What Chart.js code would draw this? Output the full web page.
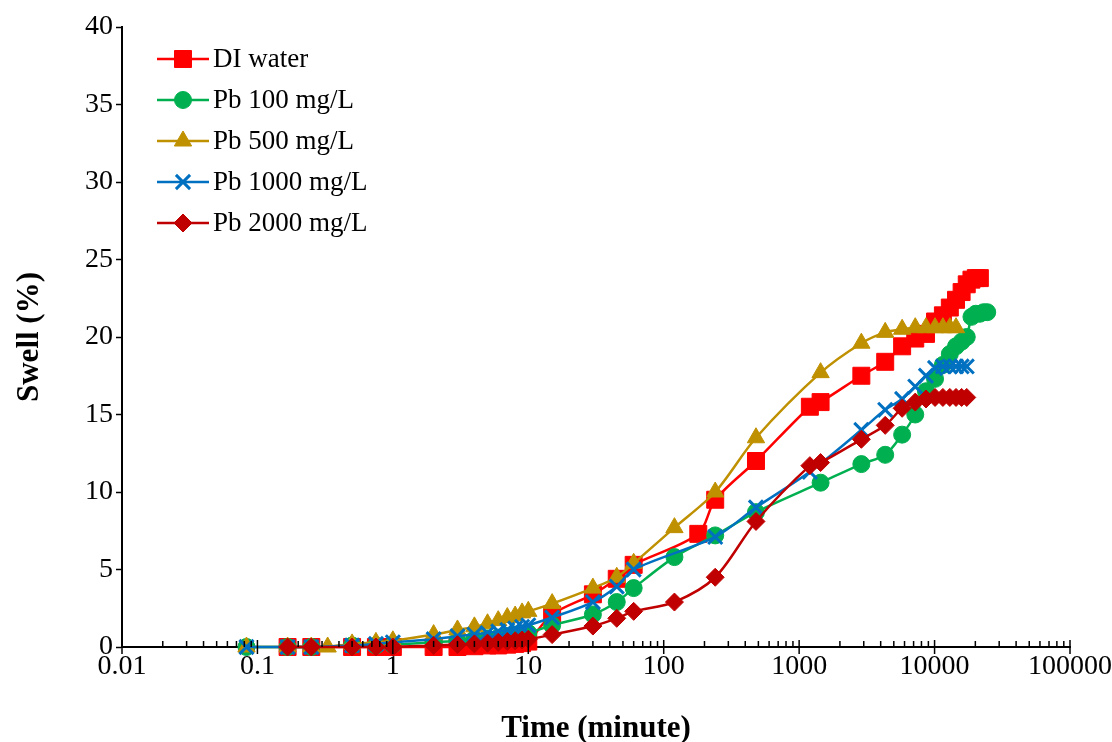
<!DOCTYPE html>
<html>
<head>
<meta charset="utf-8">
<script src="https://cdn.jsdelivr.net/npm/chart.js@4/dist/chart.umd.min.js"></script>
<style>
  html, body { margin: 0; padding: 0; background: #fff; }
  #wrap { width: 1112px; height: 742px; }
</style>
</head>
<body>
<div id="wrap"><canvas id="myChart" width="1112" height="742"></canvas></div>
<script>
// time in minutes, swell in %
const diTime = [0.167,0.25,0.5,0.75,1,2,3,4,5,6,7,8,9,10,15,30,45,60,180,240,480,1200,1440,2880,4320,5760,7200,8640,10080,11520,12960,14400,15840,17280,18720,20160,21600];
const diSwell = [0,0,0,0,0,0,0,0.05,0.1,0.1,0.15,0.2,0.25,0.35,2.1,3.4,4.4,5.3,7.3,9.5,12.0,15.5,15.8,17.5,18.4,19.4,19.9,20.2,21.0,21.4,21.9,22.4,22.9,23.4,23.7,23.8,23.8];

const pb100Time = [0.083,0.167,0.25,0.5,0.75,1,2,3,4,5,6,7,8,9,10,15,30,45,60,120,240,480,1440,2880,4320,5760,7200,8640,10080,11520,12960,14400,15840,17280,18720,20160,21600,23040,24480];
const pb100Swell = [0,0,0,0.1,0.1,0.15,0.3,0.4,0.5,0.55,0.6,0.7,0.8,0.85,0.9,1.4,2.1,2.9,3.8,5.8,7.2,8.7,10.6,11.8,12.4,13.7,15.0,16.5,17.3,18.2,18.9,19.4,19.7,20.0,21.3,21.5,21.5,21.6,21.6];

const pb500Time = [0.083,0.167,0.25,0.33,0.5,0.75,1,2,3,4,5,6,7,8,9,10,15,30,45,60,120,240,480,1440,2880,4320,5760,7200,8640,10080,11520,12960,14400];
const pb500Swell = [0,0,0,0,0.2,0.3,0.4,0.8,1.1,1.3,1.5,1.7,1.9,2.0,2.2,2.3,2.8,3.8,4.5,5.4,7.7,10.0,13.5,17.7,19.6,20.3,20.5,20.6,20.6,20.6,20.6,20.6,20.6];

const pb1000Time = [0.083,0.167,0.25,0.5,0.75,1,2,3,4,5,6,7,8,9,10,15,30,45,60,240,480,1200,2880,4320,5760,7200,8640,10080,11520,12960,14400,15840,17280];
const pb1000Swell = [0,0,0,0.1,0.2,0.3,0.5,0.7,0.8,0.9,1.0,1.1,1.2,1.3,1.4,1.9,2.9,3.9,5.0,7.1,9.0,11.3,14.0,15.3,16.0,16.8,17.5,18.0,18.1,18.1,18.1,18.1,18.1];

const pb2000Time = [0.167,0.25,0.5,0.75,1,2,3,4,5,6,7,8,9,10,15,30,45,60,120,240,480,1200,1440,2880,4320,5760,7200,8640,10080,11520,12960,14400,15840,17280];
const pb2000Swell = [0,0,0,0,0,0.1,0.15,0.2,0.25,0.3,0.35,0.4,0.45,0.5,0.8,1.35,1.85,2.3,2.9,4.5,8.1,11.7,11.9,13.4,14.3,15.4,15.8,16.0,16.1,16.1,16.1,16.1,16.1,16.1];

const seriesNames = ['DI water', 'Pb 100 mg/L', 'Pb 500 mg/L', 'Pb 1000 mg/L', 'Pb 2000 mg/L'];
const xTickLabels = [0.01, 0.1, 1, 10, 100, 1000, 10000, 100000];
const yTickLabels = [0, 5, 10, 15, 20, 25, 30, 35, 40];

const FONT = '"Liberation Serif", "Times New Roman", serif';

const toPoints = (t, v) => t.map((x, i) => ({x: x, y: v[i]}));

const styles = [
  {color: '#FF0000', point: 'rect', radius: 12},
  {color: '#00B050', point: 'circle', radius: 8.5},
  {color: '#BF9000', point: 'triangle', radius: 10},
  {color: '#0070C0', point: 'crossRot', radius: 10},
  {color: '#C00000', point: 'rectRot', radius: 9},
];
const allData = [
  toPoints(diTime, diSwell),
  toPoints(pb100Time, pb100Swell),
  toPoints(pb500Time, pb500Swell),
  toPoints(pb1000Time, pb1000Swell),
  toPoints(pb2000Time, pb2000Swell),
];

const datasets = seriesNames.map((name, i) => ({
  label: name,
  data: allData[i],
  borderColor: styles[i].color,
  backgroundColor: styles[i].color,
  pointBackgroundColor: styles[i].color,
  pointBorderColor: styles[i].color,
  pointBorderWidth: styles[i].point === 'crossRot' ? 3 : 1,
  pointStyle: styles[i].point,
  pointRadius: styles[i].radius,
  borderWidth: 2.5,
  tension: 0.3,
  clip: false,
  order: 5 - i
}));

// minor + major ticks on the x axis, and the custom legend
const extras = {
  id: 'extras',
  afterDraw(chart) {
    const ctx = chart.ctx;
    const xs = chart.scales.x;
    const y0 = chart.chartArea.bottom;
    ctx.save();
    ctx.strokeStyle = '#000';
    ctx.lineWidth = 1.5;
    for (let e = -2; e < 5; e++) {
      for (let m = 1; m <= 9; m++) {
        const px = xs.getPixelForValue(m * Math.pow(10, e));
        ctx.beginPath();
        if (m === 1) { ctx.moveTo(px, y0 - 7); ctx.lineTo(px, y0 + 7); }
        else { ctx.moveTo(px, y0 - 6); ctx.lineTo(px, y0); }
        ctx.stroke();
      }
    }
    const pxEnd = xs.getPixelForValue(100000);
    ctx.beginPath(); ctx.moveTo(pxEnd, y0 - 7); ctx.lineTo(pxEnd, y0 + 7); ctx.stroke();

    // legend
    const lx = 157, ly = 59, gap = 41;
    ctx.font = '27px ' + FONT;
    ctx.textBaseline = 'middle';
    ctx.textAlign = 'left';
    seriesNames.forEach((name, i) => {
      const y = ly + i * gap;
      ctx.strokeStyle = styles[i].color;
      ctx.lineWidth = 2.5;
      ctx.beginPath(); ctx.moveTo(lx, y); ctx.lineTo(lx + 52, y); ctx.stroke();
      ctx.fillStyle = styles[i].color;
      ctx.lineWidth = styles[i].point === 'crossRot' ? 3 : 1;
      Chart.helpers.drawPoint(ctx, {pointStyle: styles[i].point, radius: styles[i].radius, borderWidth: ctx.lineWidth}, lx + 26, y);
      ctx.fillStyle = '#000';
      ctx.fillText(name, lx + 56, y + 1);
    });
    ctx.restore();
  }
};

new Chart(document.getElementById('myChart'), {
  type: 'line',
  data: {datasets: datasets},
  plugins: [extras],
  options: {
    responsive: false,
    animation: false,
    devicePixelRatio: 1,
    layout: {padding: {left: 0, right: 42, top: 27, bottom: 0}},
    plugins: {legend: {display: false}, tooltip: {enabled: false}},
    scales: {
      x: {
        type: 'logarithmic',
        min: 0.01,
        max: 100000,
        afterBuildTicks: (s) => { s.ticks = xTickLabels.map(v => ({value: v})); },
        afterFit: (s) => { s.height = 95; s.paddingLeft = 0; s.paddingRight = 0; },
        ticks: {
          color: '#000',
          font: {family: FONT, size: 28},
          padding: 3,
          maxRotation: 0,
          autoSkip: false,
          callback: (v) => String(v)
        },
        grid: {display: true, drawOnChartArea: false, drawTicks: false},
        border: {display: true, color: '#000', width: 2},
        title: {
          display: true,
          text: 'Time (minute)',
          color: '#000',
          font: {family: FONT, size: 31, weight: 'bold', lineHeight: 1.0},
          padding: {top: 0, bottom: -2}
        }
      },
      y: {
        min: 0,
        max: 40,
        afterBuildTicks: (s) => { s.ticks = yTickLabels.map(v => ({value: v})); },
        afterFit: (s) => { s.width = 122; },
        ticks: {
          color: '#000',
          font: {family: FONT, size: 28},
          padding: 3
        },
        grid: {display: true, drawOnChartArea: false, drawTicks: true, tickLength: 6, tickWidth: 1.5, color: '#000'},
        border: {display: true, color: '#000', width: 2},
        title: {
          display: true,
          text: 'Swell (%)',
          color: '#000',
          font: {family: FONT, size: 31, weight: 'bold', lineHeight: 1.0},
          padding: {top: 14, bottom: 0}
        }
      }
    }
  }
});
</script>
</body>
</html>
